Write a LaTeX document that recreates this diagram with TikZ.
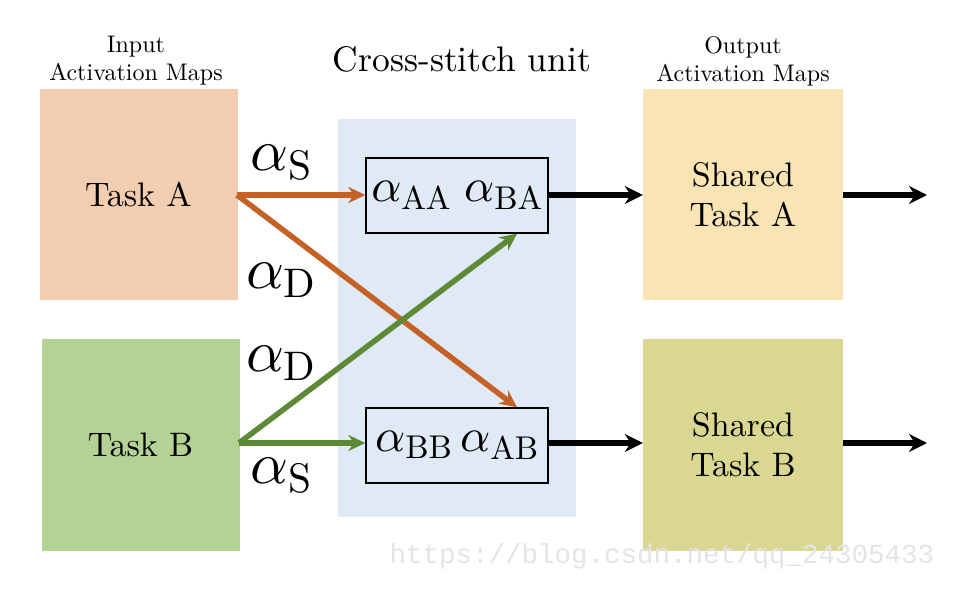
\RequirePackage{fix-cm}
\documentclass[tikz,border=0pt]{standalone}
\usepackage{fontspec}
\setmainfont{lmroman10-regular.otf}
\newfontfamily\wmfont{Liberation Mono}
\DeclareFontShape{OML}{cmm}{m}{it}{<->cmmi10}{}
\usetikzlibrary{arrows.meta,positioning}
\definecolor{peach}{RGB}{243,205,176}
\definecolor{grnbox}{RGB}{181,210,149}
\definecolor{bluebg}{RGB}{223,234,246}
\definecolor{shA}{RGB}{249,228,180}
\definecolor{shB}{RGB}{217,215,146}
\definecolor{orarr}{RGB}{196,97,38}
\definecolor{grarr}{RGB}{94,138,55}
\definecolor{wm}{RGB}{228,228,228}
\tikzset{
  mapbox/.style={rectangle, inner sep=0pt, minimum width=198pt, minimum height=211pt, align=center,
    font=\fontsize{34}{40}\selectfont},
  unitbox/.style={rectangle, draw=black, line width=1.3pt, inner sep=0pt, minimum width=182pt, minimum height=75pt,
    font=\fontsize{47}{52}\selectfont},
  toplabel/.style={align=center, inner sep=0pt, font=\fontsize{24}{28}\selectfont},
  alab/.style={inner sep=0pt, font=\fontsize{59}{64}\selectfont},
  orline/.style={draw=orarr, line width=5.5pt, -{Stealth[length=17pt,width=16pt]}},
  grline/.style={draw=grarr, line width=5.5pt, -{Stealth[length=17pt,width=16pt]}},
  blline/.style={draw=black, line width=6pt, -{Stealth[length=18pt,width=18pt]}},
}
\begin{document}
\begin{tikzpicture}[x=1pt,y=-1pt]
\useasboundingbox (0,0) rectangle (962,596);
\node[rectangle, fill=bluebg, minimum width=238pt, minimum height=398pt, inner sep=0pt] (bg) at (457,318) {};
\node[mapbox, fill=peach] (taskA) at (138.5,194.5) {Task A};
\node[mapbox, fill=grnbox] (taskB) at (140.5,445) {Task B};
\node[mapbox, fill=shA, minimum width=200pt] (shareA) at (743,194.5) {Shared\\Task A};
\node[mapbox, fill=shB, minimum width=200pt, minimum height=212pt] (shareB) at (743,445) {Shared\\Task B};
\node[unitbox] (uA) at (457,195.5) {$\alpha_{\mathrm{AA}}\;\alpha_{\mathrm{BA}}$};
\node[unitbox] (uB) at (457,445.5) {$\alpha_{\mathrm{BB}}\,\alpha_{\mathrm{AB}}$};
\node[toplabel] (inlab) at (136,61) {Input\\Activation Maps};
\node[toplabel] (outlab) at (743,61) {Output\\Activation Maps};
\node[inner sep=0pt, font=\fontsize{35.5}{40}\selectfont] (cslab) at (462,59) {Cross-stitch unit};
\coordinate (oA) at (237,195);
\coordinate (oB) at (239,443);
\coordinate (tB) at ([xshift=60pt]uB.north);
\coordinate (tA) at ([xshift=60pt]uA.south);
\coordinate (endA) at (927,195);
\coordinate (endB) at (927,443);
\draw[orline] (oA) -- (uA.west |- oA);
\draw[orline] (oA) -- (tB);
\draw[grline] (oB) -- (tA);
\draw[grline] (oB) -- (uB.west |- oB);
\draw[blline] (uA.east |- endA) -- (shareA.west |- endA);
\draw[blline] (uB.east |- endB) -- (shareB.west |- endB);
\draw[blline] (shareA.east |- endA) -- (endA);
\draw[blline] (shareB.east |- endB) -- (endB);
\node[alab] (aS1) at (281,163) {$\alpha_{\mathrm{S}}$};
\node[alab] (aD1) at (281,280) {$\alpha_{\mathrm{D}}$};
\node[alab] (aD2) at (281,363) {$\alpha_{\mathrm{D}}$};
\node[alab] (aS2) at (281,476) {$\alpha_{\mathrm{S}}$};
\node[inner sep=0pt, text=wm, font=\wmfont\fontsize{27.5}{30}\selectfont] (wmk) at (662,556) {https://blog.csdn.net/qq\_24305433};
\end{tikzpicture}
\end{document}
